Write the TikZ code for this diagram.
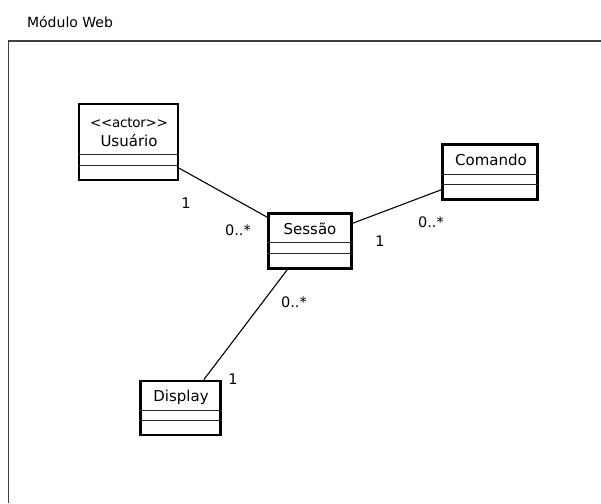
\documentclass[tikz,border=0pt]{standalone}
\usepackage{fontspec}
\setmainfont{DejaVu Sans}
\begin{document}
\begin{tikzpicture}[x=1pt,y=-1pt,
  classbox/.style={draw=black, line width=2.6pt, fill=white, rectangle, inner sep=0pt},
  divider/.style={draw=black!85, line width=1.2pt},
  conn/.style={draw=black, line width=1.1pt},
  mult/.style={font=\fontsize{14.5}{16}\selectfont, inner sep=0pt},
  cname/.style={font=\fontsize{15}{17}\selectfont, inner sep=0pt},
  frameline/.style={draw=black!75, line width=1.4pt}]
\useasboundingbox (0,0) rectangle (601,503);
\fill[white] (0,0) rectangle (601,503);
% package frame
\node[font=\fontsize{14}{16}\selectfont, inner sep=0pt] (title) at (70,22) {Módulo Web};
\coordinate (fbl) at (8.5,503);
\coordinate (ftl) at (8.5,41);
\coordinate (ftr) at (601,41);
\draw[frameline] (fbl) -- (ftl) -- (ftr);
% classes
\node[classbox, minimum width=99, minimum height=76] (usu) at (128.5,142) {};
\node[cname, align=center] (usut) at (129,132) {{\fontsize{13.5}{14}\selectfont\addfontfeatures{LetterSpace=-2}<{}<actor>{}>}\\[2pt]Usuário};
\draw[divider] ([yshift=-52pt]usu.north west) -- ([yshift=-52pt]usu.north east);
\draw[divider] ([yshift=-62.5pt]usu.north west) -- ([yshift=-62.5pt]usu.north east);

\node[classbox, minimum width=95, minimum height=55] (com) at (490,172) {};
\node[cname] (comt) at (491,160) {Comando};
\draw[divider] ([yshift=-31pt]com.north west) -- ([yshift=-31pt]com.north east);
\draw[divider] ([yshift=-41pt]com.north west) -- ([yshift=-41pt]com.north east);

\node[classbox, minimum width=83, minimum height=55] (ses) at (310,241) {};
\node[cname] (sest) at (310,229) {Sessão};
\draw[divider] ([yshift=-30pt]ses.north west) -- ([yshift=-30pt]ses.north east);
\draw[divider] ([yshift=-41pt]ses.north west) -- ([yshift=-41pt]ses.north east);

\node[classbox, minimum width=80, minimum height=54] (dis) at (180.5,408) {};
\node[cname] (dist) at (181,397) {Display};
\draw[divider] ([yshift=-31pt]dis.north west) -- ([yshift=-31pt]dis.north east);
\draw[divider] ([yshift=-41pt]dis.north west) -- ([yshift=-41pt]dis.north east);

% connectors
\draw[conn] ([yshift=13pt]usu.south east) -- ([yshift=-5pt]ses.north west);
\draw[conn] ([yshift=-11pt]ses.north east) -- ([yshift=11pt]com.south west);
\draw[conn] ([xshift=20pt]ses.south west) -- ([xshift=-18pt]dis.north east);

% multiplicities
\node[mult] (m1) at (186,203) {1};
\node[mult] (m2) at (238,230) {0..*};
\node[mult] (m3) at (380,241) {1};
\node[mult] (m4) at (431,222) {0..*};
\node[mult] (m5) at (294,302) {0..*};
\node[mult] (m6) at (233,379) {1};
\end{tikzpicture}
\end{document}
